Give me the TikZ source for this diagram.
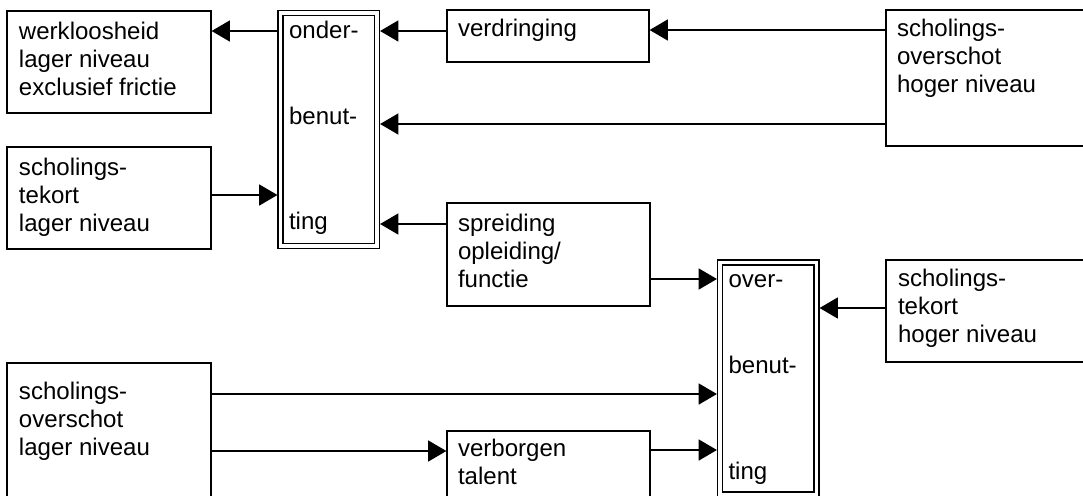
\documentclass[tikz,border=0pt]{standalone}
\usepackage{fontspec}
\setmainfont{Liberation Sans}
\usetikzlibrary{arrows.meta,fit}

\begin{document}
\begin{tikzpicture}[%
    x=0.025cm, y=-0.025cm,      % one unit is one pixel of the scan, y runs down
    >={Triangle[length=13pt,width=15pt]},
    line width=0.9pt,
    ]
% -------------------------------------------------
% Box styles (base of a text node is the baseline of its last line)
\tikzset{
  box/.style={draw, rectangle, inner sep=0pt},
  dbox/.style={box, double, double distance=2.6pt, outer sep=2.2pt},
  txt/.style={anchor=base west, align=left, inner sep=0pt,
    font=\fontsize{17.1}{19.9}\selectfont},
  to/.style={->, draw},
}
\useasboundingbox (0,0) rectangle (1083,495);
\clip (0,0) rectangle (1083,495);
% -------------------------------------------------
% Start by placing the boxes
\node [box, fit={(7,11) (211,113)}] (werk) {};
\node [box, fit={(7,147) (211,249)}] (tekl) {};
\node [dbox, fit={(280.5,13) (377,246)}] (onder) {};
\node [box, fit={(447,10) (649,62)}] (verd) {};
\node [box, fit={(886,10) (1095,146)}] (overh) {};
\node [box, fit={(447,203) (650,306)}] (spr) {};
\node [dbox, fit={(720,262.5) (816.5,494.5)}] (over) {};
\node [box, fit={(886,260) (1095,362)}] (tekh) {};
\node [box, fit={(7,363) (211,520)}] (overl) {};
\node [box, fit={(447,431) (650,520)}] (verb) {};

% Texts inside the boxes
\node [txt] (werk-t) at ([shift={(12,85)}]werk.north west) {werkloosheid\\lager niveau\\exclusief frictie};
\node [txt] (tekl-t) at ([shift={(12,85)}]tekl.north west) {scholings-\\tekort\\lager niveau};
\node [txt] (verd-t) at ([shift={(11,27)}]verd.north west) {verdringing};
\node [txt] (overh-t) at ([shift={(11,83)}]overh.north west) {scholings-\\overschot\\hoger niveau};
\node [txt] (spr-t) at ([shift={(11,85)}]spr.north west) {spreiding\\opleiding/\\functie};
\node [txt] (tekh-t) at ([shift={(12,83)}]tekh.north west) {scholings-\\tekort\\hoger niveau};
\node [txt] (overl-t) at ([shift={(12,93)}]overl.north west) {scholings-\\overschot\\lager niveau};
\node [txt] (verb-t) at ([shift={(11,54)}]verb.north west) {verborgen\\talent};

\node [txt] (onder-1) at ([shift={(11,29)}]onder.north west) {onder-};
\node [txt] (onder-2) at ([shift={(11,115)}]onder.north west) {benut-};
\node [txt] (onder-3) at ([shift={(11,220)}]onder.north west) {ting};
\node [txt] (over-1) at ([shift={(11,28)}]over.north west) {over-};
\node [txt] (over-2) at ([shift={(11,114)}]over.north west) {benut-};
\node [txt] (over-3) at ([shift={(11,220)}]over.north west) {ting};

% -------------------------------------------------
% Connectors
\draw[to] (onder.west |- 0,31) -- (werk.east |- 0,31);
\draw[to] (tekl.east |- 0,195) -- (onder.west |- 0,195);
\draw[to] (verd.west |- 0,31) -- (onder.east |- 0,31);
\draw[to] (overh.west |- 0,30) -- (verd.east |- 0,30);
\draw[to] (overh.west |- 0,124) -- (onder.east |- 0,124);
\draw[to] (spr.west |- 0,224) -- (onder.east |- 0,224);
\draw[to] (spr.east |- 0,279) -- (over.west |- 0,279);
\draw[to] (tekh.west |- 0,308) -- (over.east |- 0,308);
\draw[to] (overl.east |- 0,394) -- (over.west |- 0,394);
\draw[to] (overl.east |- 0,451) -- (verb.west |- 0,451);
\draw[to] (verb.east |- 0,450) -- (over.west |- 0,450);
% -------------------------------------------------
\end{tikzpicture}
\end{document}
